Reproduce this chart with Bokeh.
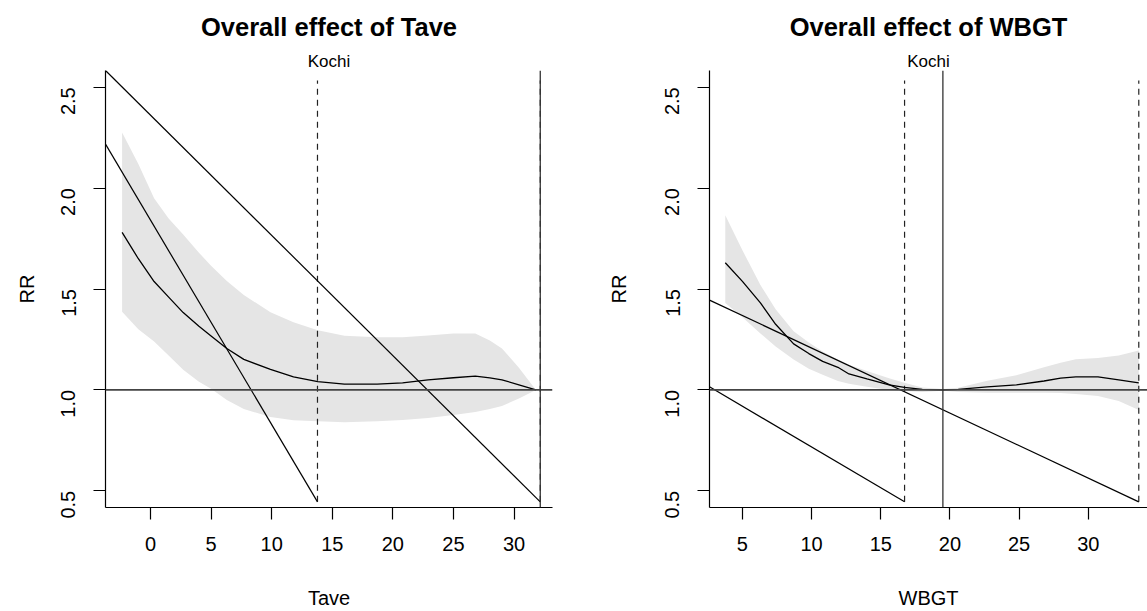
import math
from bokeh.plotting import figure
from bokeh.models import Range1d, FixedTicker, PrintfTickFormatter, Title, Span
from bokeh.layouts import row
from bokeh.embed import file_html
from bokeh.resources import INLINE

FONT = "Liberation Sans"

# ---------------- data: Tave panel ----------------
tave_title = "Overall effect of Tave"
tave_xlabel = "Tave"
tave_xticks = [0, 5, 10, 15, 20, 25, 30]
tave_x = [-2.34, -1, 0.3, 1.5, 2.7, 4, 5, 6.3, 7.7, 9.9, 11.8, 13.8, 16, 18.7,
          20.8, 22.9, 25, 26.8, 28, 29, 30.4, 31.8]
tave_rr = [1.781, 1.65, 1.537, 1.46, 1.383, 1.315, 1.267, 1.205, 1.151, 1.102,
           1.064, 1.041, 1.029, 1.029, 1.035, 1.05, 1.06, 1.068, 1.06, 1.05,
           1.025, 1.0]
tave_hi = [2.276, 2.12, 1.95, 1.85, 1.77, 1.68, 1.615, 1.54, 1.47, 1.385, 1.335,
           1.295, 1.268, 1.261, 1.261, 1.27, 1.28, 1.28, 1.245, 1.205, 1.11, 1.0]
tave_lo = [1.387, 1.30, 1.24, 1.17, 1.10, 1.04, 1.006, 0.95, 0.905, 0.866, 0.85,
           0.845, 0.84, 0.845, 0.851, 0.86, 0.875, 0.89, 0.905, 0.92, 0.957, 1.0]
tave_diag_x0 = [-3.71, -3.71]
tave_diag_y0 = [2.583, 2.218]
tave_diag_x1 = [32.16, 13.78]
tave_diag_y1 = [0.445, 0.445]
tave_dash_x = [13.78, 32.16]
tave_solid_x = [32.16]
tave_xrange = (-3.71, 33.17)

# ---------------- data: WBGT panel ----------------
wbgt_title = "Overall effect of WBGT"
wbgt_xlabel = "WBGT"
wbgt_xticks = [5, 10, 15, 20, 25, 30]
wbgt_x = [3.76, 5.0, 6.3, 7.4, 8.7, 9.8, 10.8, 11.9, 12.7, 14.0, 15.6, 16.7,
          18.0, 19.5, 20.6, 22.7, 24.8, 26.8, 28.0, 29.1, 30.7, 32.2, 33.65]
wbgt_rr = [1.63, 1.538, 1.431, 1.325, 1.228, 1.18, 1.141, 1.112, 1.079, 1.054,
           1.025, 1.012, 1.002, 1.0, 1.002, 1.015, 1.025, 1.044, 1.058, 1.064,
           1.064, 1.05, 1.035]
wbgt_hi = [1.866, 1.692, 1.52, 1.40, 1.29, 1.235, 1.19, 1.15, 1.125, 1.093,
           1.058, 1.035, 1.012, 1.004, 1.01, 1.045, 1.072, 1.112, 1.135, 1.152,
           1.158, 1.17, 1.195]
wbgt_lo = [1.431, 1.36, 1.28, 1.215, 1.15, 1.105, 1.075, 1.044, 1.03, 1.015,
           1.0, 0.995, 0.99, 0.996, 0.99, 0.986, 0.986, 0.986, 0.984, 0.98,
           0.97, 0.945, 0.9]
wbgt_diag_x0 = [2.62, 2.62]
wbgt_diag_y0 = [1.445, 1.015]
wbgt_diag_x1 = [33.65, 16.72]
wbgt_diag_y1 = [0.445, 0.445]
wbgt_dash_x = [16.72, 33.65]
wbgt_solid_x = [19.49]
wbgt_xrange = (2.62, 34.28)

# shared
city = "Kochi"
ylabel = "RR"
yticks = [0.5, 1.0, 1.5, 2.0, 2.5]
yrange = (0.417, 2.583)
ref_rr = 1.0
dash_y = (0.445, 2.533)


def panel(title, xlabel, xticks, x, rr, hi, lo, dx0, dy0, dx1, dy1,
          dash_x, solid_x, xrange, width, bleft, bright,
          ytick_standoff, ylab_standoff):
    p = figure(width=width, height=611, output_backend="svg",
               toolbar_location=None, title=None,
               x_range=Range1d(*xrange), y_range=Range1d(*yrange),
               min_border_left=bleft, min_border_right=bright,
               min_border_top=70, min_border_bottom=104)
    p.outline_line_color = None
    p.background_fill_color = "white"
    p.border_fill_color = "white"
    p.grid.visible = False

    p.varea(x=x, y1=lo, y2=hi, fill_color="#e5e5e5", fill_alpha=1.0)
    p.add_layout(Span(location=ref_rr, dimension="width",
                      line_color="#444444", line_width=1.6))
    for sx in solid_x:
        p.add_layout(Span(location=sx, dimension="height",
                          line_color="#333333", line_width=1.3))
    p.segment(x0=dash_x, x1=dash_x, y0=[dash_y[0]] * len(dash_x),
              y1=[dash_y[1]] * len(dash_x), line_color="#222222",
              line_width=1.2, line_dash="6 5")
    p.line(x, rr, line_color="black", line_width=1.3)
    p.segment(x0=dx0, y0=dy0, x1=dx1, y1=dy1, line_color="black",
              line_width=1.2)

    # axes
    for ax in (p.xaxis[0], p.yaxis[0]):
        ax.axis_line_color = "black"
        ax.axis_line_width = 1.2
        ax.major_tick_line_color = "black"
        ax.major_tick_line_width = 1.2
        ax.major_tick_out = 12
        ax.major_tick_in = 0
        ax.minor_tick_line_color = None
        ax.major_label_text_font = FONT
        ax.major_label_text_font_size = "20px"
        ax.major_label_text_color = "black"
        ax.axis_label_text_font = FONT
        ax.axis_label_text_font_size = "20px"
        ax.axis_label_text_font_style = "normal"
        ax.axis_label_text_color = "black"
    p.xaxis.ticker = FixedTicker(ticks=xticks)
    p.xaxis.formatter = PrintfTickFormatter(format="%d")
    p.xaxis.major_label_standoff = 17
    p.xaxis.axis_label = xlabel
    p.xaxis.axis_label_standoff = 33
    p.yaxis.ticker = FixedTicker(ticks=yticks)
    p.yaxis.formatter = PrintfTickFormatter(format="%.1f")
    p.yaxis.major_label_orientation = math.pi / 2
    p.yaxis.major_label_standoff = ytick_standoff
    p.yaxis.axis_label = ylabel
    p.yaxis.axis_label_standoff = ylab_standoff

    # titles: city label next to the frame, main title above it
    p.add_layout(Title(text=city, align="center",
                       text_font=FONT, text_font_size="17px",
                       text_font_style="normal", text_color="black",
                       standoff=0), "above")
    p.add_layout(Title(text=title, align="center",
                       text_font=FONT, text_font_size="25.5px",
                       text_font_style="bold", text_color="black",
                       standoff=18), "above")
    return p


p1 = panel(tave_title, tave_xlabel, tave_xticks, tave_x, tave_rr, tave_hi,
           tave_lo, tave_diag_x0, tave_diag_y0, tave_diag_x1, tave_diag_y1,
           tave_dash_x, tave_solid_x, tave_xrange, 573, 105, 21, 25, 14)

p2 = panel(wbgt_title, wbgt_xlabel, wbgt_xticks, wbgt_x, wbgt_rr, wbgt_hi,
           wbgt_lo, wbgt_diag_x0, wbgt_diag_y0, wbgt_diag_x1, wbgt_diag_y1,
           wbgt_dash_x, wbgt_solid_x, wbgt_xrange, 574, 136, 0, 25, 26)

layout = row(p1, p2, spacing=0)
open("out.html", "w").write(file_html(layout, INLINE))
